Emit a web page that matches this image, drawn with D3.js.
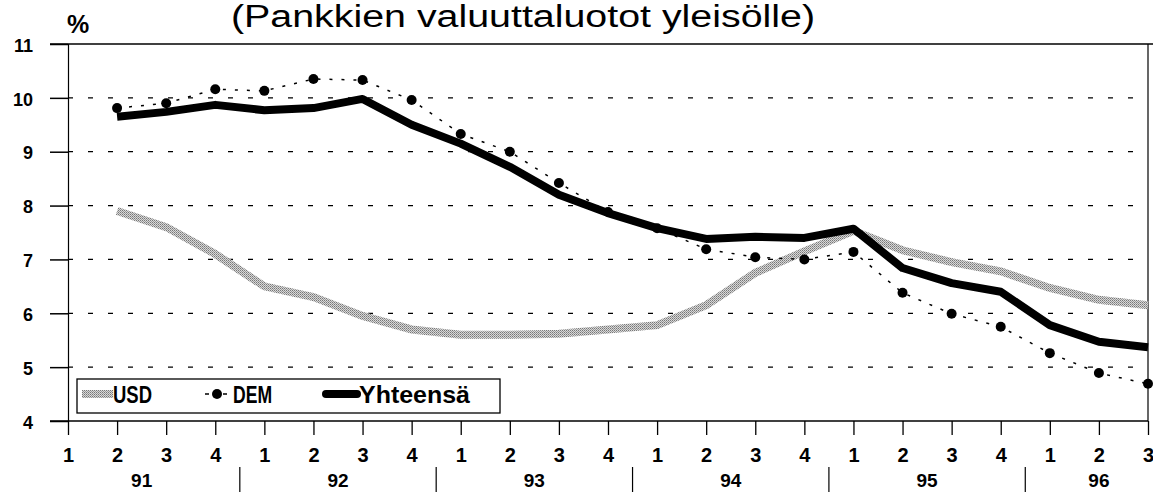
<!DOCTYPE html>
<html>
<head>
<meta charset="utf-8">
<script src="https://cdn.jsdelivr.net/npm/d3@7"></script>
<style>
  body { margin: 0; background: #fff; }
  text { font-family: Arial, "Liberation Sans", sans-serif; }
</style>
</head>
<body>
<div id="vis"></div>
<script>
var width = 1153;
var height = 492;

// quarters 1991 Q1 .. 1996 Q3
var quarters = ["1","2","3","4","1","2","3","4","1","2","3","4","1","2","3","4","1","2","3","4","1","2","3"];
var years = ["91","92","93","94","95","96"];
var yTicks = [4,5,6,7,8,9,10,11];

// values from 1991 Q2 onwards (index 1)
var usd = [7.9,7.6,7.1,6.5,6.3,5.95,5.7,5.6,5.6,5.62,5.7,5.78,6.15,6.75,7.15,7.53,7.17,6.95,6.78,6.47,6.25,6.15];
var dem = [9.81,9.9,10.16,10.13,10.35,10.33,9.96,9.33,9.0,8.42,7.88,7.58,7.19,7.04,7.0,7.14,6.38,5.99,5.75,5.26,4.89,4.69];
var total = [9.65,9.74,9.87,9.77,9.81,9.98,9.5,9.15,8.72,8.2,7.86,7.58,7.38,7.42,7.4,7.57,6.84,6.56,6.4,5.78,5.47,5.37];

var pad = {top:44, left:68, right:5, bottom:71};

var svg = d3.select('#vis').append('svg')
    .attr("width", width)
    .attr("height", height);

var x = d3.scaleLinear().domain([0, quarters.length-1]).range([pad.left, width - pad.right]);
var y = d3.scaleLinear().domain([4, 11]).range([height - pad.bottom, pad.top]);

// stipple pattern for USD
var defs = svg.append("defs");
var pat = defs.append("pattern").attr("id","stip").attr("width",2).attr("height",2)
    .attr("patternUnits","userSpaceOnUse");
pat.append("rect").attr("width",2).attr("height",2).attr("fill","#d8d8d8");
pat.append("rect").attr("width",1).attr("height",1).attr("fill","#777");
pat.append("rect").attr("x",1).attr("y",1).attr("width",1).attr("height",1).attr("fill","#999");

// title (cut at top)
svg.append("text")
    .attr("x", 231).attr("y", 27)
    .attr("font-size", 31)
    .attr("textLength", 584).attr("lengthAdjust","spacingAndGlyphs")
    .text("(Pankkien valuuttaluotot yleisölle)");

svg.append("text")
    .attr("x", 67).attr("y", 33)
    .attr("font-size", 25).attr("font-weight","bold")
    .text("%");

// grid
svg.append("g").selectAll("line")
    .data(yTicks.filter(function(d){ return d > 4 && d < 11; }))
  .enter().append("line")
    .attr("x1", x(0)).attr("x2", x(quarters.length-1))
    .attr("y1", function(d){ return y(d); }).attr("y2", function(d){ return y(d); })
    .attr("stroke","#000").attr("stroke-width",1.3)
    .attr("stroke-dasharray","5,15");

// frame
svg.append("line").attr("x1", 50).attr("x2", width).attr("y1", y(11)).attr("y2", y(11))
    .attr("stroke","#000").attr("stroke-width",1.5);
svg.append("line").attr("x1", 50).attr("x2", x(quarters.length-1)).attr("y1", y(4)).attr("y2", y(4))
    .attr("stroke","#000").attr("stroke-width",1.5);
svg.append("line").attr("x1", x(quarters.length-1)).attr("x2", x(quarters.length-1)).attr("y1", y(11)).attr("y2", y(4))
    .attr("stroke","#000").attr("stroke-width",1.2);

// y axis
var yAxis = d3.axisLeft(y).tickValues(yTicks).tickSize(18).tickPadding(17)
    .tickFormat(d3.format("d"));
var gy = svg.append("g").attr("transform","translate(" + pad.left + ",0)").call(yAxis);
gy.select(".domain").attr("stroke-width",1.2);
gy.selectAll(".tick line").attr("stroke-width",1.5);
gy.selectAll("text").attr("font-size",18).attr("font-weight","bold")
    .attr("font-family","Arial, 'Liberation Sans', sans-serif").attr("fill","#000")
    .attr("dy","0.4em");

// x axis
var xAxis = d3.axisBottom(x).tickValues(d3.range(quarters.length)).tickSize(14).tickPadding(13)
    .tickFormat(function(d){ return quarters[d]; });
var gx = svg.append("g").attr("transform","translate(0," + y(4) + ")").call(xAxis);
gx.select(".domain").remove();
gx.selectAll(".tick line").attr("stroke-width",1.3);
gx.selectAll("text").attr("font-size",20).attr("font-weight","bold")
    .attr("font-family","Arial, 'Liberation Sans', sans-serif").attr("fill","#000");

// year labels and separators
var yearG = svg.append("g");
years.forEach(function(yr, i){
    var first = i*4, last = Math.min(i*4+3, quarters.length-1);
    yearG.append("text")
        .attr("x", (x(first)+x(last))/2).attr("y", 487)
        .attr("text-anchor","middle")
        .attr("font-size",19).attr("font-weight","bold")
        .text(yr);
    if (i > 0) {
        var sx = (x(first-1)+x(first))/2;
        yearG.append("line").attr("x1",sx).attr("x2",sx).attr("y1",467).attr("y2",492)
            .attr("stroke","#000").attr("stroke-width",1.2);
    }
});

var line = d3.line()
    .x(function(d, i){ return x(i+1); })
    .y(function(d){ return y(d); });

svg.append("path").datum(usd)
    .attr("d", line).attr("fill","none")
    .attr("stroke","url(#stip)").attr("stroke-width",8);

svg.append("path").datum(dem)
    .attr("d", line).attr("fill","none")
    .attr("stroke","#000").attr("stroke-width",1.5)
    .attr("stroke-dasharray","3,9");

svg.append("g").selectAll("circle").data(dem)
  .enter().append("circle")
    .attr("cx", function(d, i){ return x(i+1); })
    .attr("cy", function(d){ return y(d); })
    .attr("r", 5).attr("fill","#000");

svg.append("path").datum(total)
    .attr("d", line).attr("fill","none")
    .attr("stroke","#000").attr("stroke-width",8)
    .attr("stroke-linejoin","round");

// legend
var lg = svg.append("g");
lg.append("rect").attr("x",77).attr("y",379).attr("width",423).attr("height",34)
    .attr("fill","#fff").attr("stroke","#000").attr("stroke-width",1.3);
lg.append("line").attr("x1",82).attr("x2",113).attr("y1",394).attr("y2",394)
    .attr("stroke","url(#stip)").attr("stroke-width",8);
lg.append("text").attr("x",113).attr("y",403).attr("font-size",24).attr("font-weight","bold")
    .attr("textLength",39).attr("lengthAdjust","spacingAndGlyphs").text("USD");
lg.append("line").attr("x1",205).attr("x2",230).attr("y1",394).attr("y2",394)
    .attr("stroke","#000").attr("stroke-width",1.5).attr("stroke-dasharray","4,5");
lg.append("circle").attr("cx",217).attr("cy",394).attr("r",5).attr("fill","#000");
lg.append("text").attr("x",233).attr("y",403).attr("font-size",24).attr("font-weight","bold")
    .attr("textLength",39).attr("lengthAdjust","spacingAndGlyphs").text("DEM");
lg.append("line").attr("x1",326).attr("x2",357).attr("y1",394).attr("y2",394)
    .attr("stroke","#000").attr("stroke-width",8).attr("stroke-linecap","round");
lg.append("text").attr("x",359).attr("y",403).attr("font-size",24).attr("font-weight","bold")
    .attr("textLength",111).attr("lengthAdjust","spacingAndGlyphs").text("Yhteensä");
</script>
</body>
</html>
